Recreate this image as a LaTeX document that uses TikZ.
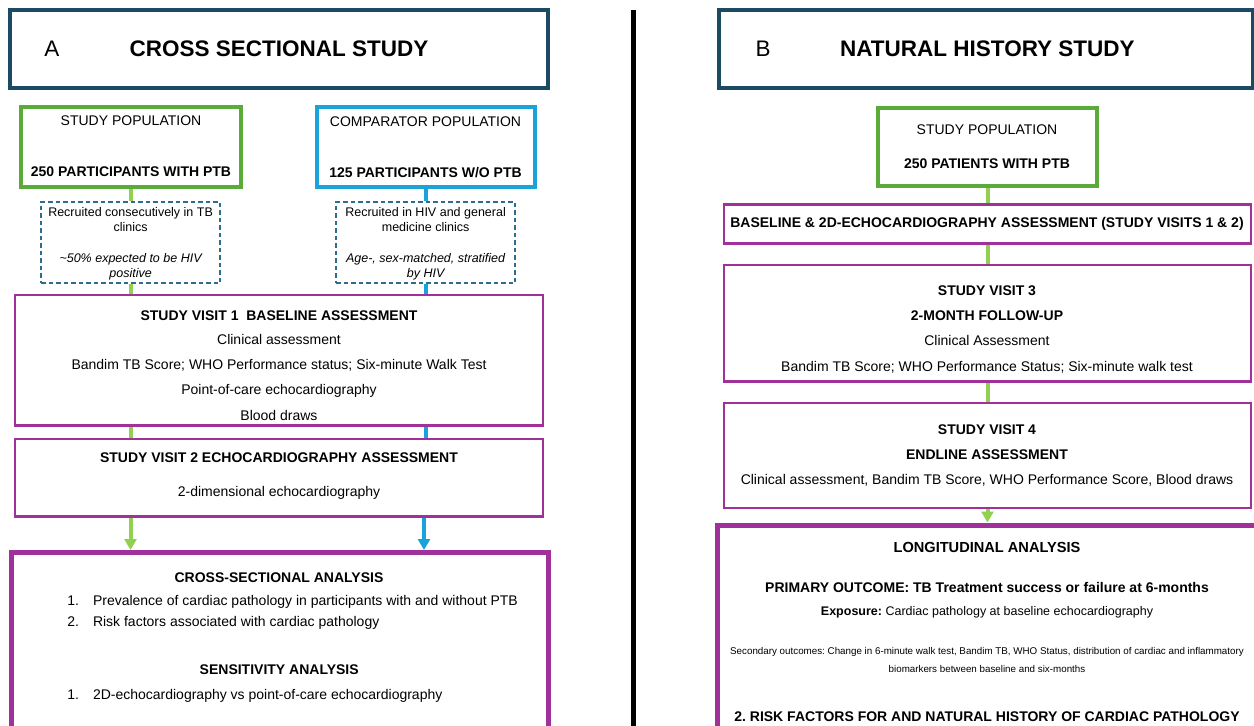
\documentclass[tikz,border=0pt]{standalone}
\usepackage{fontspec}
\setmainfont{Liberation Sans}
\usetikzlibrary{arrows.meta}
\definecolor{titleC}{HTML}{1B4A63}
\definecolor{popgreen}{HTML}{5AAB3A}
\definecolor{lgreen}{HTML}{92D050}
\definecolor{popblue}{HTML}{1AA2DB}
\definecolor{purp}{HTML}{A0309A}
\definecolor{dashC}{HTML}{2E6D8E}
\newcommand\myfs[1]{\fontsize{#1}{#1}\selectfont\frenchspacing}
\tikzset{
  boxbase/.style={rectangle, inner sep=0pt},
  titlebox/.style={boxbase, draw=titleC, line width=4pt},
  popg/.style={boxbase, draw=popgreen, line width=4pt},
  popb/.style={boxbase, draw=popblue, line width=4pt},
  dbox/.style={boxbase, draw=dashC, line width=1.2pt, dash pattern=on 4.5pt off 3pt},
  pbox/.style={boxbase, draw=purp, line width=2.5pt},
  abox/.style={boxbase, draw=purp, line width=5pt},
  gline/.style={draw=lgreen, line width=4pt},
  bline/.style={draw=popblue, line width=4pt},
  tip/.style={-{Triangle[width=12pt,length=11pt]}},
  txt/.style={anchor=base, inner sep=0pt, font=\myfs{14}},
  hd/.style={anchor=base, inner sep=0pt, font=\myfs{14}\bfseries},
  sm/.style={anchor=base, inner sep=0pt, font=\myfs{12.5}},
  big/.style={anchor=base, inner sep=0pt, font=\myfs{22.5}},
  bigb/.style={anchor=base, inner sep=0pt, font=\myfs{22.5}\bfseries},
  tiny/.style={anchor=base, inner sep=0pt, font=\myfs{9.8}},
}
\begin{document}
\begin{tikzpicture}[x=1pt,y=-1pt]
\useasboundingbox (0,0) rectangle (1254,726);
\clip (0,0) rectangle (1254,726);
\fill[white] (0,0) rectangle (1254,726);

% ---------------- Panel A ----------------
\node[titlebox, minimum width=538, minimum height=78] (tA) at (279,49) {};
\node[big] (tAl) at (52,56.5) {A};
\node[bigb] (tAt) at (279,56.5) {CROSS SECTIONAL STUDY};

\node[popg, minimum width=220, minimum height=80] (spA) at (131,147) {};
\node[txt] (spA1) at (131,125.7) {STUDY POPULATION};
\node[hd] (spA2) at (131,176.7) {250 PARTICIPANTS WITH PTB};

\node[popb, minimum width=218.5, minimum height=80] (cpA) at (425.75,147) {};
\node[txt] (cpA1) at (425.5,126) {COMPARATOR POPULATION};
\node[hd] (cpA2) at (425.5,177) {125 PARTICIPANTS W/O PTB};

\node[dbox, minimum width=179, minimum height=81] (d1) at (130.5,242.5) {};
\node[sm] (d1a) at (130.6,216.2) {Recruited consecutively in TB};
\node[sm] (d1b) at (130.6,231.5) {clinics};
\node[sm] (d1c) at (130.6,262.2) {\itshape \textasciitilde50\% expected to be HIV};
\node[sm] (d1d) at (130.6,277.5) {\itshape positive};

\node[dbox, minimum width=179, minimum height=81] (d2) at (425.5,242.5) {};
\node[sm] (d2a) at (425.6,216.2) {Recruited in HIV and general};
\node[sm] (d2b) at (425.6,231.5) {medicine clinics};
\node[sm] (d2c) at (425.6,262.2) {\itshape Age-, sex-matched, stratified};
\node[sm] (d2d) at (425.6,277.5) {\itshape by HIV};

\node[pbox, minimum width=528, minimum height=130.5] (v1) at (279,360.25) {};
\node[hd] (v1a) at (279,320) {STUDY VISIT 1\ \ BASELINE ASSESSMENT};
\node[txt] (v1b) at (279,344) {Clinical assessment};
\node[txt] (v1c) at (279,369) {Bandim TB Score; WHO Performance status; Six-minute Walk Test};
\node[txt] (v1d) at (279,394.3) {Point-of-care echocardiography};
\node[txt] (v1e) at (279,420) {Blood draws};

\node[pbox, minimum width=528, minimum height=77.5] (v2) at (279,477.75) {};
\node[hd] (v2a) at (279,462.7) {STUDY VISIT 2 ECHOCARDIOGRAPHY ASSESSMENT};
\node[txt] (v2b) at (279,496.7) {2-dimensional echocardiography};

\node[abox, minimum width=537.5, minimum height=207.5] (anA) at (279.75,656.25) {};
\node[hd] (anA1) at (279,582.7) {CROSS-SECTIONAL ANALYSIS};
\node[txt, anchor=base west] (anA2n) at (67.2,605) {1.};
\node[txt, anchor=base west] (anA2) at (92.8,605) {Prevalence of cardiac pathology in participants with and without PTB};
\node[txt, anchor=base west] (anA3n) at (67.2,626.7) {2.};
\node[txt, anchor=base west] (anA3) at (92.8,626.7) {Risk factors associated with cardiac pathology};
\node[hd] (anA4) at (279.2,674) {SENSITIVITY ANALYSIS};
\node[txt, anchor=base west] (anA5n) at (67.2,699) {1.};
\node[txt, anchor=base west] (anA5) at (92.8,699) {2D-echocardiography vs point-of-care echocardiography};

% connectors A
\draw[gline] (spA.south -| d1) -- (d1.north);
\draw[gline] (d1.south) -- (v1.north -| d1);
\draw[gline] (v1.south -| d1) -- (v2.north -| d1);
\draw[gline, tip] (v2.south -| d1) -- (anA.north -| d1);
\draw[bline] (cpA.south -| d2) -- (d2.north);
\draw[bline] (d2.south) -- (v1.north -| d2);
\draw[bline] (v1.south -| d2) -- (v2.north -| d2);
\draw[bline, tip] ([xshift=-1.5pt]v2.south -| d2) -- ([xshift=-1.5pt]anA.north -| d2);

% divider
\draw[line width=5.5pt] (633.5,10) -- (633.5,730);

% ---------------- Panel B ----------------
\node[titlebox, minimum width=534, minimum height=78] (tB) at (986,49) {};
\node[big] (tBl) at (763,56.5) {B};
\node[bigb] (tBt) at (987.4,56.5) {NATURAL HISTORY STUDY};

\node[popg, minimum width=219, minimum height=78.5] (spB) at (987.5,146.75) {};
\node[txt] (spB1) at (987,134.3) {STUDY POPULATION};
\node[hd] (spB2) at (987,168.3) {250 PATIENTS WITH PTB};

\node[pbox, minimum width=527, minimum height=39] (bl) at (987.5,224) {};
\node[hd] (bl1) at (987,227.7) {BASELINE \& 2D-ECHOCARDIOGRAPHY ASSESSMENT (STUDY VISITS 1 \& 2)};

\node[pbox, minimum width=527, minimum height=116.5] (v3) at (987.5,323.25) {};
\node[hd] (v3a) at (987,295.3) {STUDY VISIT 3};
\node[hd] (v3b) at (987,320) {2-MONTH FOLLOW-UP};
\node[txt] (v3c) at (987,345.7) {Clinical Assessment};
\node[txt] (v3d) at (987,371.3) {Bandim TB Score; WHO Performance Status; Six-minute walk test};

\node[pbox, minimum width=527, minimum height=105] (v4) at (987.5,455.5) {};
\node[hd] (v4a) at (987,434) {STUDY VISIT 4};
\node[hd] (v4b) at (987,459) {ENDLINE ASSESSMENT};
\node[txt] (v4c) at (987,484.3) {Clinical assessment, Bandim TB Score, WHO Performance Score, Blood draws};

\node[abox, minimum width=539.5, minimum height=235] (lg) at (987.25,642.5) {};
\node[anchor=base, inner sep=0pt, font=\myfs{14.6}\bfseries] (lg1) at (987,552.3) {LONGITUDINAL ANALYSIS};
\node[hd] (lg2) at (987,592.7) {PRIMARY OUTCOME: TB Treatment success or failure at 6-months};
\node[sm] (lg3) at (987,615.2) {\bfseries Exposure:\mdseries{} Cardiac pathology at baseline echocardiography};
\node[tiny] (lg4) at (987,654.2) {Secondary outcomes: Change in 6-minute walk test, Bandim TB, WHO Status, distribution of cardiac and inflammatory};
\node[tiny] (lg5) at (987,672.8) {biomarkers between baseline and six-months};
\node[hd] (lg6) at (987,721) {2. RISK FACTORS FOR AND NATURAL HISTORY OF CARDIAC PATHOLOGY};

% connectors B
\draw[gline] (spB.south) -- (bl.north -| spB);
\draw[gline] (bl.south -| spB) -- (v3.north -| spB);
\draw[gline] (v3.south -| spB) -- (v4.north -| spB);
\draw[gline, tip] (v4.south -| spB) -- (lg.north -| spB);
\end{tikzpicture}
\end{document}
